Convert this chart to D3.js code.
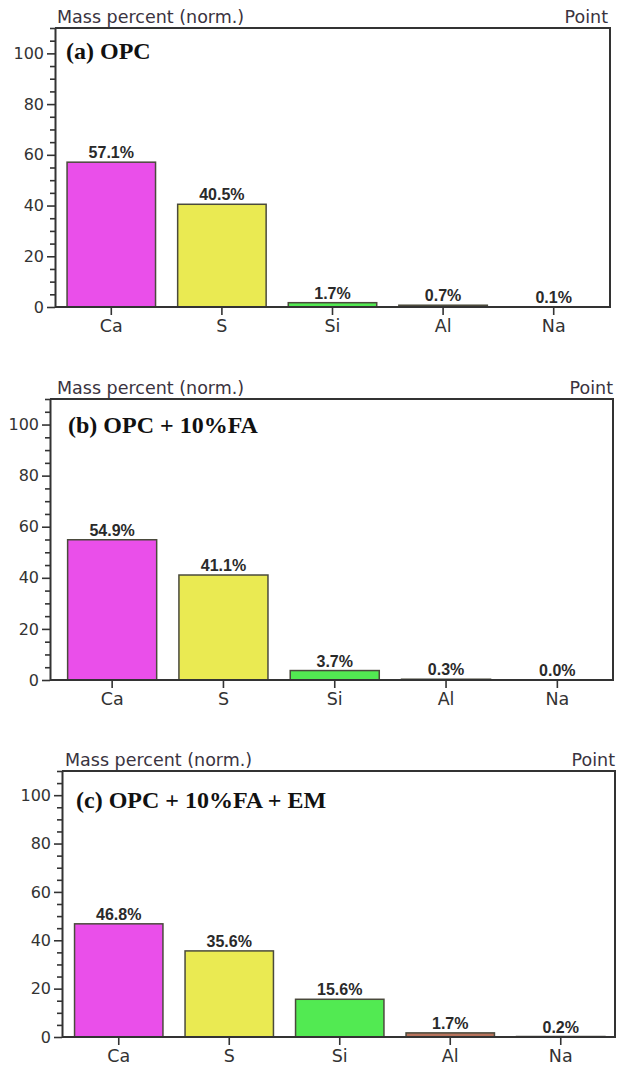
<!DOCTYPE html>
<html>
<head>
<meta charset="utf-8">
<script src="https://cdn.jsdelivr.net/npm/d3@7"></script>
<style>
  body { margin: 0; background: #fff; }
  svg { display: block; }
</style>
</head>
<body>
<svg id="chart"></svg>
<script>
// EDX mass percent values
const elements = ['Ca', 'S', 'Si', 'Al', 'Na'];
const opcValues = [57.1, 40.5, 1.7, 0.7, 0.1];
const opcFaValues = [54.9, 41.1, 3.7, 0.3, 0.0];
const opcFaEmValues = [46.8, 35.6, 15.6, 1.7, 0.2];
const panelTitles = ['(a) OPC', '(b) OPC + 10%FA', '(c) OPC + 10%FA + EM'];
const yMajorTicks = [0, 20, 40, 60, 80, 100];
const yMinorTicks = d3.range(0, 111, 5);

const width = 617, height = 1074;
const svg = d3.select('#chart').attr('width', width).attr('height', height);

const colorScale = d3.scaleOrdinal()
    .domain(elements)
    .range(['#ea4fea', '#eaea52', '#52ea52', '#b8735c', '#8080ea']);

// frame geometry for each panel (the scans are not perfectly aligned)
const panels = [
    {values: opcValues, title: panelTitles[0], left: 55, right: 610, top: 28, bottom: 307,
     band: [56, 609], titleX: 66, titleY: 59, headY: 23, headX: 57, pointX: 608},
    {values: opcFaValues, title: panelTitles[1], left: 50, right: 613, top: 399, bottom: 680,
     band: [56.5, 613], titleX: 68, titleY: 433, headY: 394, headX: 57, pointX: 613},
    {values: opcFaEmValues, title: panelTitles[2], left: 62, right: 615, top: 771, bottom: 1037,
     band: [63.5, 616], titleX: 76, titleY: 808, headY: 766, headX: 65, pointX: 615}
];

panels.forEach(p => {
    const g = svg.append('g');

    const xScale = d3.scaleBand()
        .domain(elements)
        .range(p.band)
        .paddingInner(0.2)
        .paddingOuter(0.1);

    const yScale = d3.scaleLinear()
        .domain([0, 110])
        .range([p.bottom, p.top]);

    // header texts
    g.append('text')
        .attr('x', p.headX).attr('y', p.headY)
        .attr('font-family', 'DejaVu Sans, Verdana, sans-serif')
        .attr('font-size', 17.5)
        .attr('fill', '#3a3340')
        .text('Mass percent (norm.)');
    g.append('text')
        .attr('x', p.pointX).attr('y', p.headY)
        .attr('text-anchor', 'end')
        .attr('font-family', 'DejaVu Sans, Verdana, sans-serif')
        .attr('font-size', 17.5)
        .attr('fill', '#3a3340')
        .text('Point');

    // bars
    g.selectAll('.bar')
        .data(elements.map((e, i) => ({element: e, value: p.values[i]})))
        .enter().append('rect')
        .attr('class', 'bar')
        .attr('x', d => xScale(d.element))
        .attr('y', d => yScale(d.value))
        .attr('width', xScale.bandwidth())
        .attr('height', d => yScale(0) - yScale(d.value))
        .attr('fill', d => colorScale(d.element))
        .attr('stroke', '#4a4a3c')
        .attr('stroke-width', 1.5);

    // value labels
    g.selectAll('.val')
        .data(elements.map((e, i) => ({element: e, value: p.values[i]})))
        .enter().append('text')
        .attr('class', 'val')
        .attr('x', d => xScale(d.element) + xScale.bandwidth() / 2)
        .attr('y', d => yScale(d.value) - 4)
        .attr('text-anchor', 'middle')
        .attr('font-family', 'Liberation Sans, Arial, sans-serif')
        .attr('font-weight', 'bold')
        .attr('font-size', 16)
        .attr('fill', '#2a2a2a')
        .text(d => d.value.toFixed(1) + '%');

    // frame: top, right, bottom
    g.append('path')
        .attr('d', `M${p.left},${p.top}H${p.right}V${p.bottom}H${p.left}`)
        .attr('fill', 'none')
        .attr('stroke', '#333')
        .attr('stroke-width', 2);

    // y axis with major and minor ticks
    const yAxis = g.append('g')
        .attr('transform', `translate(${p.left},0)`)
        .call(d3.axisLeft(yScale)
            .tickValues(yMinorTicks)
            .tickSize(8)
            .tickSizeOuter(0)
            .tickFormat(d => yMajorTicks.includes(d) ? d : ''));
    yAxis.selectAll('.tick line')
        .attr('x2', d => yMajorTicks.includes(d) ? -8 : -5)
        .attr('stroke', '#333')
        .attr('stroke-width', 1.6);
    yAxis.select('.domain').attr('stroke', '#333').attr('stroke-width', 2);
    yAxis.selectAll('.tick text')
        .attr('font-family', 'DejaVu Sans, Verdana, sans-serif')
        .attr('font-size', 16)
        .attr('fill', '#333');

    // x axis
    const xAxis = g.append('g')
        .attr('transform', `translate(0,${p.bottom})`)
        .call(d3.axisBottom(xScale).tickSize(8).tickSizeOuter(0).tickPadding(5));
    xAxis.select('.domain').remove();
    xAxis.selectAll('.tick line').attr('stroke', '#333').attr('stroke-width', 1.6);
    xAxis.selectAll('.tick text')
        .attr('font-family', 'DejaVu Sans, Verdana, sans-serif')
        .attr('font-size', 17.5)
        .attr('fill', '#333');

    // panel title
    g.append('text')
        .attr('x', p.titleX).attr('y', p.titleY)
        .attr('font-family', 'Liberation Serif, Times New Roman, serif')
        .attr('font-weight', 'bold')
        .attr('font-size', 24)
        .attr('fill', '#111')
        .text(p.title);
});
</script>
</body>
</html>
